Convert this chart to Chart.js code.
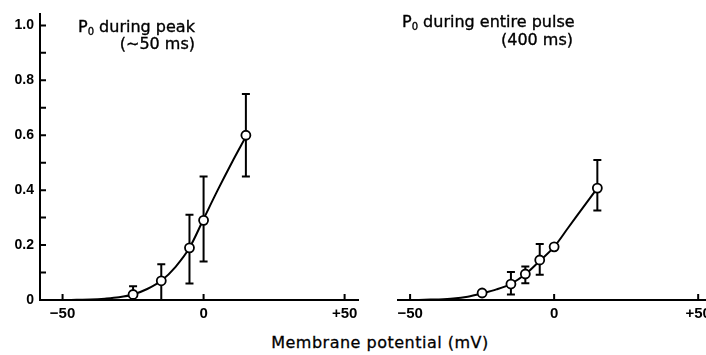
<!DOCTYPE html>
<html lang="en">
<head>
<meta charset="UTF-8">
<title>Open probability vs membrane potential</title>
<style>
  html, body { margin: 0; padding: 0; background: #fff; overflow: hidden; }
  #wrap { position: relative; width: 706px; height: 355px; overflow: hidden;
          font-family: "DejaVu Sans", sans-serif; color: #000; }
  #leftBox { position: absolute; left: 0; top: 0; }
  #rightBox { position: absolute; left: 362px; top: 0; }
  .lbl { position: absolute; font-size: 16px; line-height: 18px; white-space: nowrap;
         -webkit-text-stroke: 0.35px #000; }
  .lbl sub { font-size: 10px; vertical-align: -3px; line-height: 0; }
  #xTitle { position: absolute; left: 0; width: 760px; top: 333px; text-align: center;
            font-size: 16px; letter-spacing: 0.5px; -webkit-text-stroke: 0.3px #000; }
</style>
<script src="https://cdn.jsdelivr.net/npm/chart.js"></script>
</head>
<body>
<div id="wrap">
  <div id="leftBox"><canvas id="leftChart" width="365" height="325"></canvas></div>
  <div id="rightBox"><canvas id="rightChart" width="370" height="325"></canvas></div>
  <div class="lbl" style="left:78px; top:18px;">P<sub>0</sub> during peak</div>
  <div class="lbl" style="right:511px; top:35px;">(∼50 ms)</div>
  <div class="lbl" style="left:402px; top:13px;">P<sub>0</sub> during entire pulse</div>
  <div class="lbl" style="right:133px; top:31px;">(400 ms)</div>
  <div id="xTitle">Membrane potential (mV)</div>
</div>

<script>
// y axis ticks (shared scale)
var yTickVals = [0, 0.2, 0.4, 0.6, 0.8, 1.0];
var yTickLabels = ['0', '0.2', '0.4', '0.6', '0.8', '1.0'];
var yMinorVals = [0.1, 0.2, 0.3, 0.4, 0.5, 0.6, 0.7, 0.8, 0.9, 1.0];
var xTickVals = [-50, 0, 50];
var xTickLabels = ['\u221250', '0', '+50'];

// left panel: Po during peak (~50 ms)
var peakV = [-25, -15, -5, 0, 15];
var peakPo = [0.02, 0.07, 0.19, 0.29, 0.60];
var peakLo = [0.0, 0.0, 0.06, 0.14, 0.45];
var peakHi = [0.05, 0.13, 0.31, 0.45, 0.75];
var peakCurveV = [-48, -45, -40, -35, -30, -25, -20, -15, -10, -5, 0, 5, 10, 15];
var peakCurveP = [0, 0.001, 0.002, 0.005, 0.01, 0.02, 0.04, 0.07, 0.12, 0.19, 0.295, 0.40, 0.50, 0.595];

// right panel: Po during entire pulse (400 ms)
var pulseV = [-25, -15, -10, -5, 0, 15];
var pulsePo = [0.025, 0.057, 0.093, 0.143, 0.19, 0.40];
var pulseLo = [null, 0.02, 0.06, 0.09, null, 0.32];
var pulseHi = [null, 0.10, 0.12, 0.20, null, 0.50];
var pulseCurveV = [-48, -45, -40, -35, -30, -25, -20, -15, -10, -5, 0, 5, 10, 15];
var pulseCurveP = [0, 0.001, 0.002, 0.005, 0.012, 0.024, 0.038, 0.058, 0.092, 0.14, 0.19, 0.26, 0.33, 0.40];

// vertical error bars with caps, drawn under the circles
var errorBars = {
    id: 'errorBars',
    beforeDatasetsDraw: function(chart, args, opts) {
        var ctx = chart.ctx, xs = chart.scales.x, ys = chart.scales.y;
        ctx.save();
        ctx.strokeStyle = '#000';
        ctx.lineWidth = 2;
        for (var i = 0; i < opts.x.length; i++) {
            if (opts.lo[i] === null) continue;
            var px = xs.getPixelForValue(opts.x[i]);
            var top = ys.getPixelForValue(opts.hi[i]);
            var bot = ys.getPixelForValue(opts.lo[i]);
            ctx.beginPath();
            ctx.moveTo(px, top); ctx.lineTo(px, bot);
            ctx.moveTo(px - 4, top); ctx.lineTo(px + 4, top);
            ctx.moveTo(px - 4, bot); ctx.lineTo(px + 4, bot);
            ctx.stroke();
        }
        ctx.restore();
    }
};

// tick marks that point into the plot
var inwardTicks = {
    id: 'inwardTicks',
    afterDraw: function(chart, args, opts) {
        var ctx = chart.ctx, xs = chart.scales.x, ys = chart.scales.y;
        var area = chart.chartArea;
        ctx.save();
        ctx.strokeStyle = '#000';
        ctx.lineWidth = 2;
        ctx.beginPath();
        (opts.y || []).forEach(function(v) {
            var py = ys.getPixelForValue(v);
            ctx.moveTo(area.left, py); ctx.lineTo(area.left + 6, py);
        });
        xTickVals.forEach(function(v) {
            var px = xs.getPixelForValue(v);
            ctx.moveTo(px, area.bottom); ctx.lineTo(px, area.bottom - 6);
        });
        ctx.stroke();
        ctx.restore();
    }
};

function makeChart(id, curveV, curveP, ptsV, ptsP, lo, hi, cfg) {
    var ctx = document.getElementById(id).getContext('2d');
    return new Chart(ctx, {
        type: 'scatter',
        data: {
            datasets: [{
                data: ptsV.map(function(v, i) { return {x: v, y: ptsP[i]}; }),
                showLine: false,
                pointRadius: 4.5,
                pointBackgroundColor: '#fff',
                pointBorderColor: '#000',
                pointBorderWidth: 1.8
            }, {
                data: curveV.map(function(v, i) { return {x: v, y: curveP[i]}; }),
                showLine: true,
                borderColor: '#000',
                borderWidth: 2,
                pointRadius: 0,
                cubicInterpolationMode: 'monotone'
            }]
        },
        options: {
            responsive: false,
            animation: false,
            layout: { padding: cfg.padding },
            plugins: {
                legend: { display: false },
                tooltip: { enabled: false },
                errorBars: { x: ptsV, lo: lo, hi: hi },
                inwardTicks: { y: cfg.showY ? yMinorVals : [] }
            },
            scales: {
                x: {
                    type: 'linear',
                    min: cfg.xMin, max: cfg.xMax,
                    afterFit: function(s) { s.height = 25; },
                    afterBuildTicks: function(s) { s.ticks = xTickVals.map(function(v) { return {value: v}; }); },
                    grid: { display: true, drawOnChartArea: false, drawTicks: false },
                    border: { display: true, color: '#000', width: 2 },
                    ticks: {
                        padding: 5,
                        color: '#000',
                        maxRotation: 0,
                        font: { family: 'Liberation Sans', size: 15, weight: 'bold' },
                        callback: function(v) { return xTickLabels[xTickVals.indexOf(v)]; }
                    }
                },
                y: {
                    type: 'linear',
                    display: cfg.showY,
                    min: 0, max: 1.04,
                    afterFit: function(s) { s.width = cfg.showY ? 40 : 0; },
                    afterBuildTicks: function(s) { s.ticks = yTickVals.map(function(v) { return {value: v}; }); },
                    grid: { display: true, drawOnChartArea: false, drawTicks: false },
                    border: { display: true, color: '#000', width: 2 },
                    ticks: {
                        padding: 6,
                        color: '#000',
                        font: { family: 'Liberation Sans', size: 14, weight: 'bold' },
                        callback: function(v) { return yTickLabels[yTickVals.indexOf(v)]; }
                    }
                }
            }
        },
        plugins: [errorBars, inwardTicks]
    });
}

makeChart('leftChart', peakCurveV, peakCurveP, peakV, peakPo, peakLo, peakHi,
    { showY: true, xMin: -58, xMax: 55, padding: { left: 0, right: 2, top: 9, bottom: 0 } });
makeChart('rightChart', pulseCurveV, pulseCurveP, pulseV, pulsePo, pulseLo, pulseHi,
    { showY: false, xMin: -54.2, xMax: 54.8, padding: { left: 36, right: 20, top: 9, bottom: 0 } });
</script>
</body>
</html>
